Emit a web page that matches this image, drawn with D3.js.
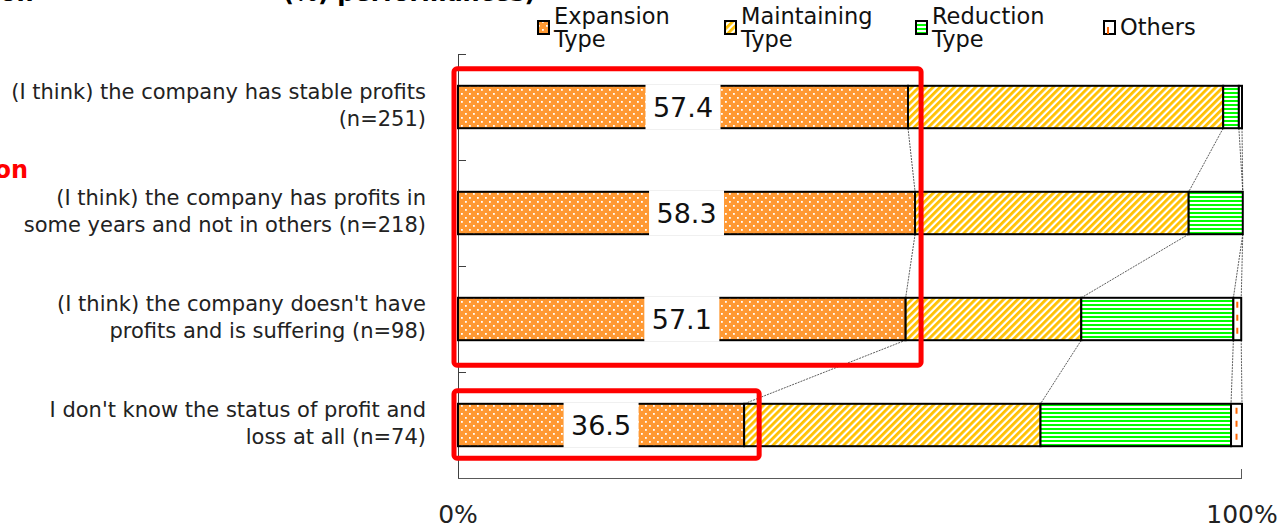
<!DOCTYPE html>
<html><head><meta charset="utf-8">
<script src="https://cdn.jsdelivr.net/npm/d3@7"></script>
<style>body{margin:0;background:#fff;} svg{display:block;font-family:"DejaVu Sans",Verdana,sans-serif;}</style>
</head><body>
<svg id="chart" width="1285" height="528"></svg>
<script>
const categories = [
  ["(I think) the company has stable profits", "(n=251)"],
  ["(I think) the company has profits in", "some years and not in others (n=218)"],
  ["(I think) the company doesn't have", "profits and is suffering (n=98)"],
  ["I don't know the status of profit and", "loss at all (n=74)"]
];
const seriesNames = ["Expansion Type", "Maintaining Type", "Reduction Type", "Others"];
const expansion   = [57.4, 58.3, 57.1, 36.5];
const maintaining = [40.2, 34.9, 22.4, 37.8];
const reduction   = [2.0, 6.9, 19.4, 24.3];
const others      = [0.4, 0.0, 1.0, 1.4];
const axisTicks = ["0%", "100%"];
const highlightGroups = [[0, 2], [3, 3]];

const svg = d3.select("#chart");
const x = d3.scaleLinear().domain([0, 100]).range([458, 1242]);
const y = d3.scaleBand().domain(d3.range(categories.length)).range([54, 478]).paddingInner(0.6).paddingOuter(0.3);
const bw = y.bandwidth();

// patterns
const defs = svg.append("defs");
const pe = defs.append("pattern").attr("id","pExp").attr("patternUnits","userSpaceOnUse").attr("width",8).attr("height",8);
pe.append("rect").attr("width",8).attr("height",8).attr("fill","#FF9933");
pe.append("rect").attr("x",1).attr("y",1).attr("width",1.8).attr("height",1.8).attr("fill","#fff");
pe.append("rect").attr("x",5).attr("y",5).attr("width",1.8).attr("height",1.8).attr("fill","#fff");
const pm = defs.append("pattern").attr("id","pMai").attr("patternUnits","userSpaceOnUse").attr("width",5).attr("height",5).attr("patternTransform","rotate(45)");
pm.append("rect").attr("width",5).attr("height",5).attr("fill","#fff");
pm.append("rect").attr("width",2.8).attr("height",5).attr("fill","#FFC000");
const pr = defs.append("pattern").attr("id","pRed").attr("patternUnits","userSpaceOnUse").attr("width",4).attr("height",4);
pr.append("rect").attr("width",4).attr("height",4).attr("fill","#fff");
pr.append("rect").attr("width",4).attr("height",2).attr("fill","#00FF00");
const fills = ["url(#pExp)", "url(#pMai)", "url(#pRed)", "#fff"];

// stacked data
const rows = categories.map((c, i) => {
  const vals = [expansion[i], maintaining[i], reduction[i], others[i]];
  let acc = 0;
  const segs = vals.map((v, k) => { const s = {k, x0: acc, x1: acc + v, v}; acc += v; return s; });
  return {i, segs};
});

// axes
const axG = svg.append("g").attr("stroke","#404040").attr("stroke-width",1).attr("fill","none");
axG.append("line").attr("x1",x(0)+0.5).attr("x2",x(0)+0.5).attr("y1",y.range()[0]).attr("y2",y.range()[1]);
axG.append("line").attr("x1",x(0)).attr("x2",x(100)).attr("y1",y.range()[1]+0.5).attr("y2",y.range()[1]+0.5).attr("stroke","#595959");
const bounds = d3.range(categories.length + 1).map(i => y.range()[0] + i * y.step());
axG.selectAll(".tk").data(bounds.slice(0, -1)).join("line")
  .attr("x1", x(0)).attr("x2", x(0) + 8).attr("y1", d => Math.round(d)+0.5).attr("y2", d => Math.round(d)+0.5);
axG.append("line").attr("x1",x(100)-0.5).attr("x2",x(100)-0.5).attr("y1",y.range()[1]-9).attr("y2",y.range()[1]).attr("stroke","#595959");

// series connector lines
const conn = svg.append("g").attr("stroke","#333").attr("stroke-width",0.8).attr("stroke-dasharray","2,1").attr("fill","none");
for (let i = 0; i < rows.length - 1; i++) {
  rows[i].segs.forEach((s, k) => {
    conn.append("line").attr("x1", x(s.x1)).attr("y1", y(i) + bw)
      .attr("x2", x(rows[i+1].segs[k].x1)).attr("y2", y(i+1));
  });
}

// bars
const barG = svg.append("g");
rows.forEach(r => {
  const g = barG.append("g");
  g.selectAll("rect").data(r.segs).join("rect")
    .attr("x", d => x(d.x0)).attr("width", d => x(d.x1) - x(d.x0))
    .attr("y", y(r.i)).attr("height", bw)
    .attr("fill", d => fills[d.k]).attr("stroke","#000").attr("stroke-width",2);
  const o = r.segs[3];
  if (o.v >= 0.9) {
    g.append("line").attr("x1", (x(o.x0)+x(o.x1))/2).attr("x2", (x(o.x0)+x(o.x1))/2)
      .attr("y1", y(r.i)+4).attr("y2", y(r.i)+bw-3)
      .attr("stroke","#FF6600").attr("stroke-width",2).attr("stroke-dasharray","6,7");
  }
  // value label on expansion
  const e = r.segs[0];
  const cx = (x(e.x0) + x(e.x1)) / 2;
  g.append("rect").attr("x", cx - 37.5).attr("width", 75).attr("y", y(r.i) - 1.5).attr("height", bw + 3).attr("fill","#fff");
  g.append("text").attr("x", cx).attr("y", y(r.i) + bw/2 + 10).attr("text-anchor","middle")
    .attr("font-size", 27).attr("fill","#111").text(e.v.toFixed(1));
});

// category labels
const lab = svg.append("g").attr("font-size", 21).attr("fill","#222").attr("text-anchor","end");
categories.forEach((c, i) => {
  const cy = y(i) + bw/2;
  const t = lab.append("text").attr("x", 426).attr("y", cy - 8);
  t.append("tspan").attr("x", 426).text(c[0]);
  t.append("tspan").attr("x", 426).attr("dy", 27).text(c[1]);
});

// x tick labels
svg.selectAll(".xt").data(axisTicks).join("text")
  .attr("x", (d, i) => x(i * 100)).attr("y", 523).attr("text-anchor","middle")
  .attr("font-size", 25).attr("fill","#222").text(d => d);

// legend
const legX = [537, 724, 915, 1103];
const leg = svg.append("g");
seriesNames.forEach((n, k) => {
  const g = leg.append("g").attr("transform", `translate(${legX[k]},0)`);
  g.append("rect").attr("x", 1).attr("y", 21).attr("width", 11).attr("height", 13)
    .attr("fill", fills[k]).attr("stroke","#000").attr("stroke-width",2);
  if (k === 3) g.append("line").attr("x1",5).attr("x2",5).attr("y1",27).attr("y2",34).attr("stroke","#FF6600").attr("stroke-width",2);
  const parts = n.split(" ");
  if (k === 3) {
    g.append("text").attr("x", 17).attr("y", 35).attr("font-size", 22.5).attr("fill","#111").text(n);
  } else {
    const t = g.append("text").attr("x", 17).attr("y", 24).attr("font-size", 22.5).attr("fill","#111");
    t.append("tspan").attr("x", 17).text(parts[0]);
    t.append("tspan").attr("x", 17).attr("dy", 23).text(parts[1]);
  }
});

// highlight boxes
const hl = svg.append("g").attr("fill","none").attr("stroke","#FF0000").attr("stroke-width",5);
highlightGroups.forEach(([a, b], j) => {
  const maxE = d3.max(expansion.slice(a, b + 1));
  const x0 = x(0) - 4, x1 = x(maxE) + (j === 0 ? 6 : 15);
  const y0 = y(a) - (j === 0 ? 17 : 13), y1 = y(b) + bw + (j === 0 ? 25 : 12);
  hl.append("rect").attr("x", x0).attr("y", y0).attr("width", x1 - x0).attr("height", y1 - y0).attr("rx", 3);
});

// cropped title remnants
svg.append("text").attr("x", 0).attr("y", 1).attr("font-size", 24).attr("font-weight","bold").attr("fill","#000").text("on");
svg.append("text").attr("x", 283).attr("y", 1).attr("font-size", 24).attr("font-weight","bold").attr("fill","#000").text("(%) performances)");
svg.append("text").attr("x", 28).attr("y", 178).attr("text-anchor","end").attr("font-size", 24).attr("font-weight","bold").attr("fill","#FF0000").text("on");
</script>
</body></html>
